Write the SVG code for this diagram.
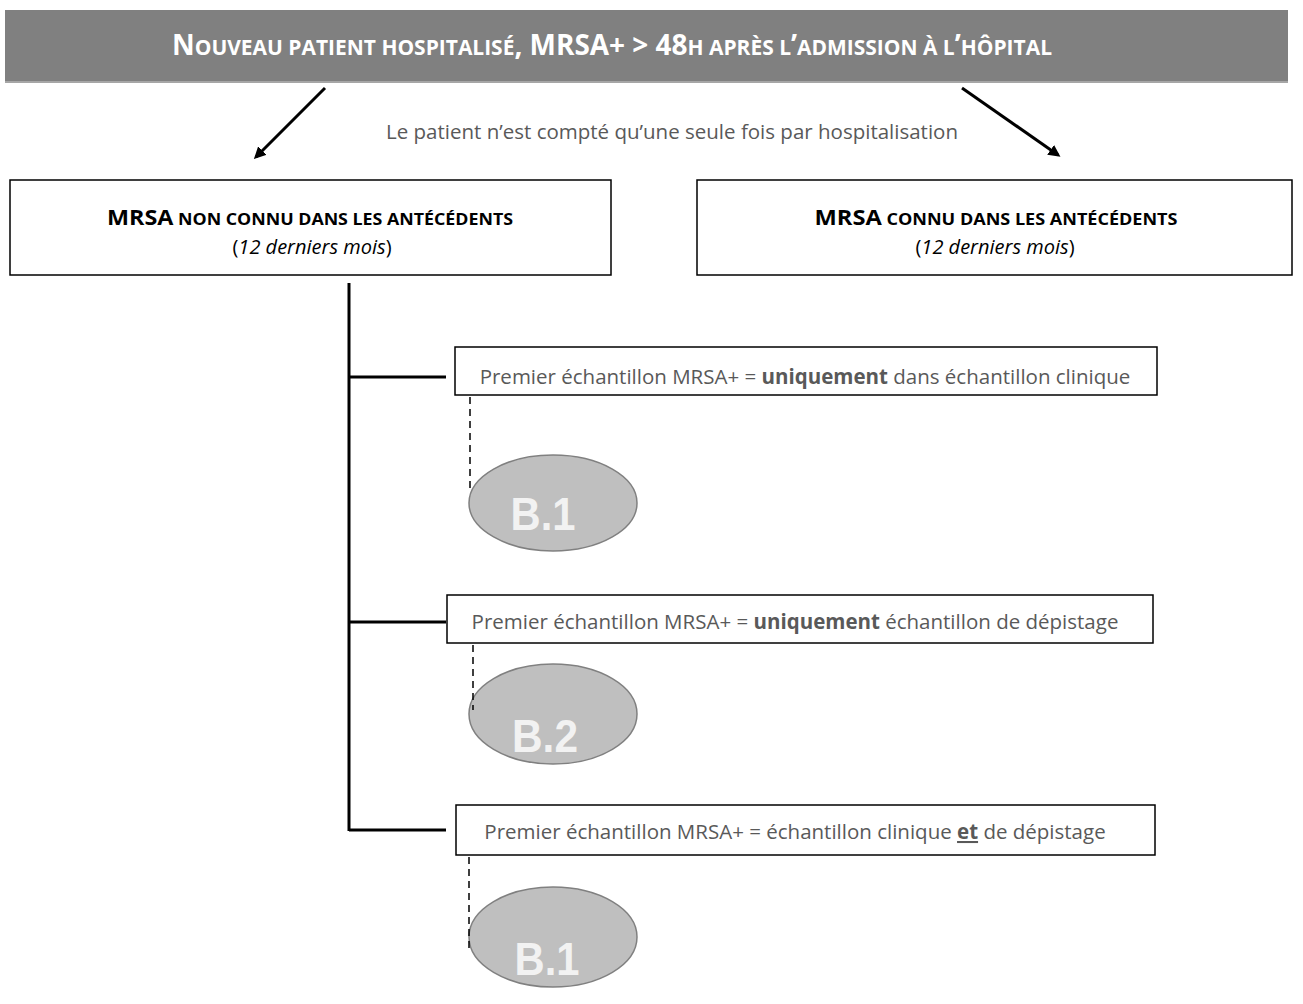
<svg xmlns="http://www.w3.org/2000/svg" width="1303" height="1004" viewBox="0 0 1303 1004">
<style>
.box{fill:#fff;stroke:#000;stroke-width:1.5}
.t{font-family:"Open Sans","Liberation Sans",sans-serif;fill:#595959;font-size:20.5px;text-anchor:middle}
.h{font-family:"Open Sans","Liberation Sans",sans-serif;fill:#000;text-anchor:middle}
.ell{fill:#bfbfbf;stroke:#808080;stroke-width:1.5}
.bl{font-family:"Liberation Sans",Arial,sans-serif;font-weight:bold;font-size:46px;fill:#f2f2f2;text-anchor:middle}
.thick{stroke:#000;stroke-width:3;fill:none}
.dash{stroke:#000;stroke-width:1.5;stroke-dasharray:7,5;fill:none}
</style>
<defs>
<marker id="ah" markerWidth="12" markerHeight="12" refX="9" refY="6" orient="auto" markerUnits="userSpaceOnUse" viewBox="0 0 12 12">
<path d="M0,0 L12,6 L0,12 Z" fill="#000"/>
</marker>
</defs>
<rect width="1303" height="1004" fill="#fff"/>
<g id="banner">
<rect x="5" y="10" width="1283" height="72" fill="#808080"/>
<line x1="5" y1="82" x2="1288" y2="82" stroke="#a6a6a6" stroke-width="2"/>
<text x="612" y="55" text-anchor="middle" textLength="880" lengthAdjust="spacingAndGlyphs" font-family="'Open Sans','Liberation Sans',sans-serif" font-weight="bold" fill="#fff" font-size="21px"><tspan font-size="28px">N</tspan>OUVEAU PATIENT HOSPITALISÉ<tspan font-size="28px">, MRSA+ &gt; 48</tspan>H APRÈS L<tspan font-size="28px">’</tspan>ADMISSION À L<tspan font-size="28px">’</tspan>HÔPITAL</text>
</g>
<g id="note">
<text class="t" x="672" y="139" font-size="20px">Le patient n’est compté qu’une seule fois par hospitalisation</text>
</g>
<g id="left">
<rect class="box" x="10" y="180" width="601" height="95"/>
<text class="h" x="310" y="225" font-size="16px" font-weight="bold" textLength="406" lengthAdjust="spacingAndGlyphs"><tspan font-size="21px">MRSA</tspan> NON CONNU DANS LES ANTÉCÉDENTS</text>
<text class="h" x="312" y="254" font-size="20px">(<tspan font-style="italic">12 derniers mois</tspan>)</text>
</g>
<g id="right">
<rect class="box" x="697" y="180" width="595" height="95"/>
<text class="h" x="996" y="225" font-size="16px" font-weight="bold" textLength="363" lengthAdjust="spacingAndGlyphs"><tspan font-size="21px">MRSA</tspan> CONNU DANS LES ANTÉCÉDENTS</text>
<text class="h" x="995" y="254" font-size="20px">(<tspan font-style="italic">12 derniers mois</tspan>)</text>
</g>
<g id="c1">
<rect class="box" x="455" y="347" width="702" height="48"/>
<text class="t" x="805" y="384">Premier échantillon MRSA+ = <tspan font-weight="bold">uniquement</tspan> dans échantillon clinique</text>
</g>
<g id="c2">
<rect class="box" x="447" y="595" width="706" height="48"/>
<text class="t" x="795" y="629">Premier échantillon MRSA+ = <tspan font-weight="bold">uniquement</tspan> échantillon de dépistage</text>
</g>
<g id="c3">
<rect class="box" x="456" y="805" width="699" height="50"/>
<text class="t" x="795" y="839">Premier échantillon MRSA+ = échantillon clinique <tspan font-weight="bold" text-decoration="underline">et</tspan> de dépistage</text>
</g>
<g id="b1a">
<ellipse class="ell" cx="553" cy="503" rx="84" ry="48"/>
<text class="bl" x="543" y="530" textLength="65" lengthAdjust="spacingAndGlyphs">B.1</text>
</g>
<g id="b2">
<ellipse class="ell" cx="553" cy="714" rx="84" ry="50"/>
<text class="bl" x="545" y="752" textLength="66" lengthAdjust="spacingAndGlyphs">B.2</text>
</g>
<g id="b1b">
<ellipse class="ell" cx="553" cy="937" rx="84" ry="50"/>
<text class="bl" x="547" y="975" textLength="65" lengthAdjust="spacingAndGlyphs">B.1</text>
</g>
<g id="connectors">
<line x1="325" y1="88" x2="256" y2="157" stroke="#000" stroke-width="3" marker-end="url(#ah)"/>
<line x1="962" y1="88" x2="1058" y2="155" stroke="#000" stroke-width="3" marker-end="url(#ah)"/>
<line class="thick" x1="349" y1="283" x2="349" y2="831"/>
<line class="thick" x1="349" y1="377" x2="446" y2="377"/>
<line class="thick" x1="349" y1="622" x2="446" y2="622"/>
<line class="thick" x1="349" y1="830" x2="446" y2="830"/>
<line class="dash" x1="470" y1="397" x2="470" y2="492"/>
<line class="dash" x1="473" y1="645" x2="473" y2="710"/>
<line class="dash" x1="469" y1="857" x2="469" y2="950"/>
</g>
</svg>
